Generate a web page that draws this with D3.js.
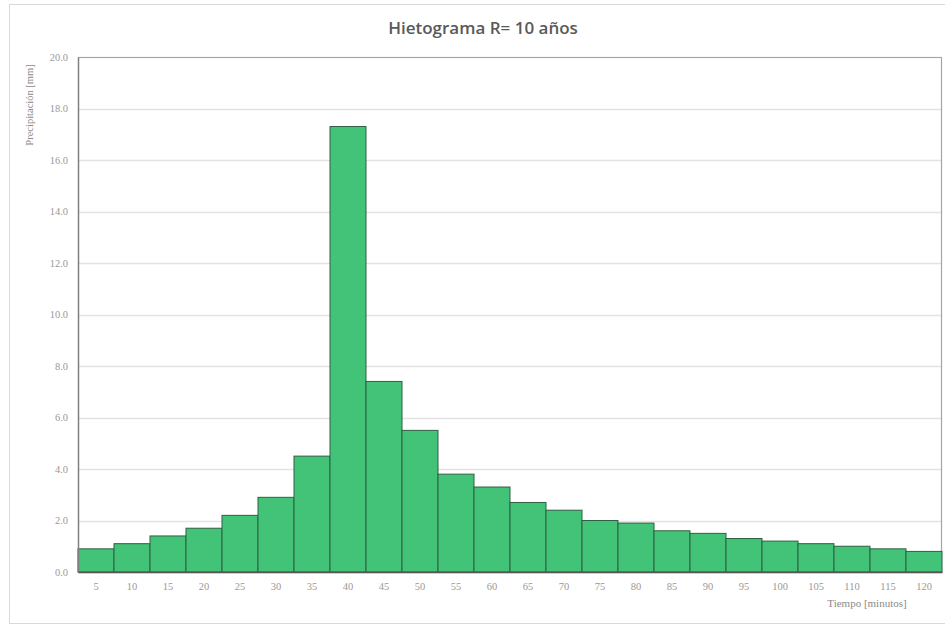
<!DOCTYPE html>
<html><head><meta charset="utf-8">
<script src="https://cdn.jsdelivr.net/npm/d3@7"></script>
<style>body{margin:0;background:#fff}svg{display:block}</style>
</head><body>
<svg id="c" width="945" height="625"></svg>
<script>
const categories = [5,10,15,20,25,30,35,40,45,50,55,60,65,70,75,80,85,90,95,100,105,110,115,120];
const values = [0.9,1.1,1.4,1.7,2.2,2.9,4.5,17.3,7.4,5.5,3.8,3.3,2.7,2.4,2.0,1.9,1.6,1.5,1.3,1.2,1.1,1.0,0.9,0.8];
const yTicks = [0,2,4,6,8,10,12,14,16,18,20];
const title = "Hietograma R= 10 años";
const yLabel = "Precipitación [mm]";
const xLabel = "Tiempo [minutos]";

const svg = d3.select("#c");
const m = {left:78, right:942, top:57, bottom:572};
svg.append("rect").attr("x",9.5).attr("y",4.5).attr("width",945).attr("height",619)
  .attr("fill","#fff").attr("stroke","#d9d9d9");

const x = d3.scaleBand().domain(categories).range([m.left,m.right]).padding(0);
const y = d3.scaleLinear().domain([0,20]).range([m.bottom,m.top]);

// gridlines
svg.append("g").selectAll("line").data(yTicks).join("line")
  .attr("x1",m.left).attr("x2",m.right)
  .attr("y1",d=>Math.round(y(d))+0.5).attr("y2",d=>Math.round(y(d))+0.5)
  .attr("stroke","#e3e3e3").attr("stroke-width",1.5);

// plot border (top/right)
svg.append("path").attr("d",`M${m.left},${m.top+0.5}H${m.right-0.5}V${m.bottom}`)
  .attr("fill","none").attr("stroke","#a6a6a6").attr("stroke-width",1.2);

// bars
svg.append("g").selectAll("rect").data(values).join("rect")
  .attr("x",(d,i)=>x(categories[i]))
  .attr("y",d=>y(d))
  .attr("width",x.bandwidth())
  .attr("height",d=>y(0)-y(d))
  .attr("fill","#43c377").attr("stroke","#2f5f42").attr("stroke-width",1);

// axes
const yAxis = d3.axisLeft(y).tickValues(yTicks).tickFormat(d3.format(".1f")).tickSize(0).tickPadding(10);
const gy = svg.append("g").attr("transform",`translate(${m.left},0)`).call(yAxis);
gy.select(".domain").attr("stroke","#7f7f7f").attr("stroke-width",1.5);
gy.selectAll("text").attr("font-family","'Liberation Serif', serif").attr("font-size",10.5).attr("fill","#999");

const xAxis = d3.axisBottom(x).tickSize(0).tickPadding(11);
const gx = svg.append("g").attr("transform",`translate(0,${m.bottom})`).call(xAxis);
gx.select(".domain").attr("stroke","#555").attr("stroke-width",1.5);
gx.selectAll("text").attr("font-family","'Liberation Serif', serif").attr("font-size",10.5).attr("fill","#999");

// title
svg.append("text").attr("x",483).attr("y",34).attr("text-anchor","middle")
  .attr("font-family","'Open Sans', sans-serif").attr("font-weight","600").attr("font-size",17)
  .attr("fill","#595959").text(title);

svg.append("text").attr("transform","translate(33,105) rotate(-90)").attr("text-anchor","middle")
  .attr("font-family","'Liberation Serif', serif").attr("font-size",10.5).attr("fill","#8a8a8a").text(yLabel);

svg.append("text").attr("x",867).attr("y",607).attr("text-anchor","middle")
  .attr("font-family","'Liberation Serif', serif").attr("font-size",11).attr("fill","#8a8a8a").text(xLabel);
</script>
</body></html>
